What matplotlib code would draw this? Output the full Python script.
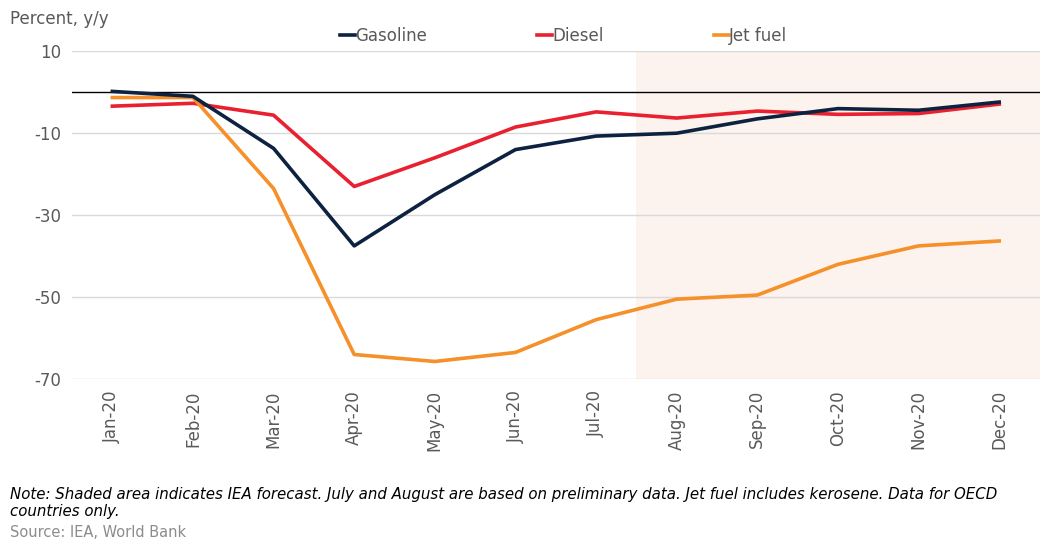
import matplotlib.pyplot as plt

plt.rcParams['axes.unicode_minus'] = False

# data
months = ['Jan-20', 'Feb-20', 'Mar-20', 'Apr-20', 'May-20', 'Jun-20',
          'Jul-20', 'Aug-20', 'Sep-20', 'Oct-20', 'Nov-20', 'Dec-20']
gasoline = [0.2, -1.0, -13.7, -37.5, -25.0, -14.0, -10.7, -10.0, -6.5, -4.0, -4.4, -2.4]
diesel = [-3.4, -2.7, -5.6, -23.0, -16.0, -8.5, -4.8, -6.3, -4.6, -5.4, -5.2, -2.9]
jet_fuel = [-1.3, -1.3, -23.5, -64.0, -65.7, -63.5, -55.5, -50.5, -49.5, -42.0, -37.5, -36.3]
yticks = [10, -10, -30, -50, -70]
forecast_start = 6.5

fig = plt.figure(figsize=(10.5, 5.51), dpi=100)
ax = fig.add_axes([0.0686, 0.312, 0.9214, 0.595])

x = range(len(months))
ax.axvspan(forecast_start, len(months) - 0.5, color='#fdf3ee', zorder=0, lw=0)
for y in yticks:
    ax.axhline(y, color='#d9d9d9', lw=1, zorder=1)
ax.axhline(0, color='black', lw=1, zorder=2)

ax.plot(x, gasoline, color='#0d2240', lw=2.6, label='Gasoline', zorder=4)
ax.plot(x, diesel, color='#e8202f', lw=2.6, label='Diesel', zorder=3)
ax.plot(x, jet_fuel, color='#f5902a', lw=2.6, label='Jet fuel', zorder=3)

ax.set_xlim(-0.5, len(months) - 0.5)
ax.set_ylim(-70, 10)
ax.set_yticks(yticks)
ax.set_xticks(list(x))
ax.set_xticklabels(months, rotation=90)
ax.tick_params(length=0, labelsize=12, colors='#595959', pad=8)
for s in ax.spines.values():
    s.set_visible(False)

leg = ax.legend(loc='lower center', bbox_to_anchor=(0.508, 1.0), ncol=3, frameon=False,
                fontsize=12, handlelength=0.9, handletextpad=0.0, columnspacing=6.6,
                borderaxespad=0.0)
for t in leg.get_texts():
    t.set_color('#595959')

fig.text(0.01, 0.965, 'Percent, y/y', fontsize=12, color='#595959', va='center')
fig.text(0.01, 0.087, 'Note: Shaded area indicates IEA forecast. July and August are based on preliminary data. '
         'Jet fuel includes kerosene. Data for OECD\ncountries only.',
         fontsize=10.8, style='italic', color='black', va='center', linespacing=1.2)
fig.text(0.01, 0.033, 'Source: IEA, World Bank', fontsize=10.5, color='#8c8c8c', va='center')

plt.savefig('out.png', dpi=100)
